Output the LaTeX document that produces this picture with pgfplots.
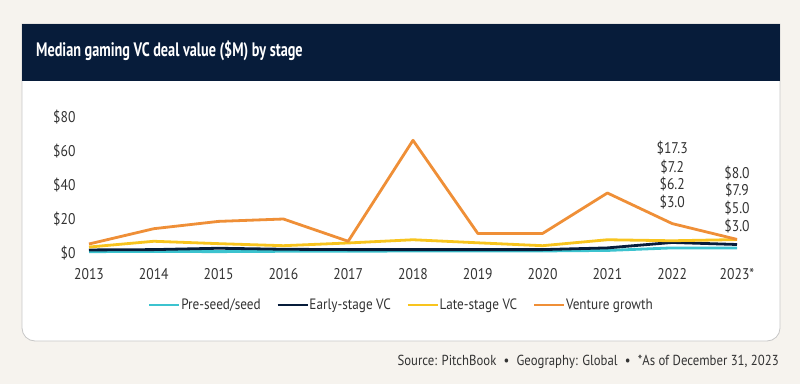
\documentclass[border=0pt]{standalone}
\usepackage{pgfplots}
\pgfplotsset{compat=1.18}
\usepackage{fontspec}
\setmainfont[FakeStretch=0.82]{PT Sans}
\newfontfamily\titlefont[FakeStretch=0.73]{PT Sans}
\newfontfamily\tickfont[FakeStretch=0.88]{PT Sans}
\definecolor{bg}{HTML}{F6F3EE}
\definecolor{navy}{HTML}{071C3A}
\definecolor{cseed}{HTML}{3CC3CF}
\definecolor{cearly}{HTML}{071C3A}
\definecolor{clate}{HTML}{F8C41E}
\definecolor{cgrowth}{HTML}{EF8F37}
\definecolor{txt}{HTML}{333333}
\begin{document}
\begin{tikzpicture}[x=1pt,y=1pt]
\useasboundingbox (0,0) rectangle (800,384);
\fill[bg] (0,0) rectangle (800,384);
\draw[fill=white, draw=black!22, line width=0.8pt] (22,360) {[rounded corners=13pt] -- (22,43) -- (780,43)} -- (780,360) -- cycle;
\fill[navy] (22,360) rectangle (780,303);
\node[anchor=west, text=white, font=\titlefont\fontsize{19.5}{22}\selectfont\bfseries, inner sep=0pt] at (36,333) {Median gaming VC deal value (\$M) by stage};
\node[anchor=east, text=txt, font=\tickfont\fontsize{14.5}{16}\selectfont, inner sep=0pt] at (779,22) {Source: PitchBook\enspace\textbullet\enspace Geography: Global\enspace\textbullet\enspace *As of December 31, 2023};
\begin{axis}[
  at={(89pt,131pt)}, anchor=south west,
  scale only axis, width=648pt, height=136pt,
  xmin=0, xmax=10, ymin=0, ymax=80,
  clip=false,
  axis line style={draw=none},
  tick style={draw=none},
  xtick={0,...,10},
  xticklabels={2013,2014,2015,2016,2017,2018,2019,2020,2021,2022,2023*},
  ytick={0,20,40,60,80},
  yticklabels={\$0,\$20,\$40,\$60,\$80},
  ticklabel style={text=txt, font=\tickfont\fontsize{15.5}{17}\selectfont},
  xticklabel style={yshift=-12pt},
  yticklabel style={xshift=-10pt},
  legend columns=4,
  legend style={at={(0.481,-0.382)}, anchor=center, draw=none, fill=none,
     font=\tickfont\fontsize{15}{17}\selectfont, text=txt,
     nodes={inner xsep=0.5pt},
     /tikz/every odd column/.append style={column sep=0pt},
     /tikz/every even column/.append style={column sep=15pt}},
  legend image code/.code={\draw[#1, line width=2.8pt] (0pt,0pt) -- (30pt,0pt);},
  every axis plot/.append style={line width=2.8pt, line join=round, no marks},
]
\addplot[cseed] coordinates {(0,0.8)(1,0.9)(2,0.8)(3,1.0)(4,1.0)(5,1.2)(6,1.2)(7,1.2)(8,1.5)(9,3.0)(10,3.0)};
\addlegendentry{Pre-seed/seed}
\addplot[cearly] coordinates {(0,1.8)(1,2.0)(2,2.8)(3,2.2)(4,2.0)(5,2.0)(6,2.0)(7,2.0)(8,3.0)(9,6.2)(10,5.0)};
\addlegendentry{Early-stage VC}
\addplot[clate] coordinates {(0,3.5)(1,6.9)(2,5.5)(3,4.3)(4,5.9)(5,7.8)(6,6.0)(7,4.3)(8,7.8)(9,7.2)(10,7.9)};
\addlegendentry{Late-stage VC}
\addplot[cgrowth] coordinates {(0,5.3)(1,14.3)(2,18.6)(3,20.0)(4,6.9)(5,66.3)(6,11.5)(7,11.5)(8,35.3)(9,17.3)(10,8.0)};
\addlegendentry{Venture growth}
\begin{scope}[every node/.style={text=txt, font=\tickfont\fontsize{15.5}{17}\selectfont, inner sep=0pt}]
\node at (axis cs:9,61.8) {\$17.3};
\node at (axis cs:9,50.6) {\$7.2};
\node at (axis cs:9,40.6) {\$6.2};
\node at (axis cs:9,30.0) {\$3.0};
\node at (axis cs:10,47.1) {\$8.0};
\node at (axis cs:10,37.1) {\$7.9};
\node at (axis cs:10,26.5) {\$5.0};
\node at (axis cs:10,15.9) {\$3.0};
\end{scope}
\end{axis}
\end{tikzpicture}
\end{document}
